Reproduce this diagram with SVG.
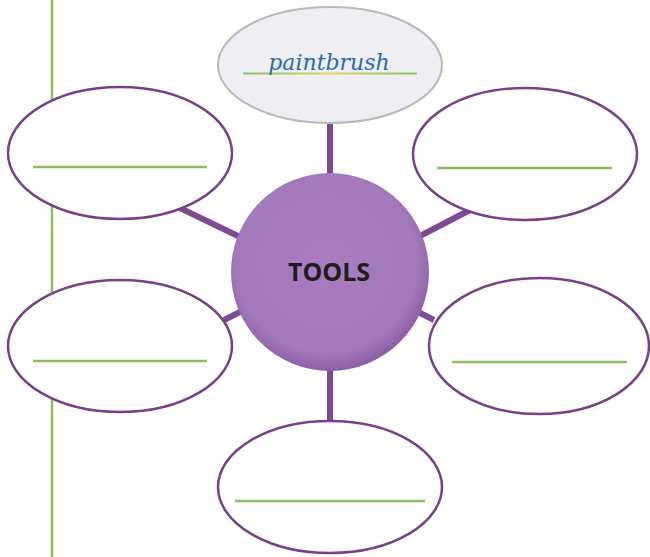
<svg xmlns="http://www.w3.org/2000/svg" width="650" height="557" viewBox="0 0 650 557">
<style>
.bubble{fill:#ffffff;stroke:#7a3f8c;stroke-width:2.5}
.line{stroke:#8dc05a;stroke-width:2.5}
.conn{stroke:#7d4a94;stroke-width:6;stroke-linecap:butt}
</style>
<defs>
<radialGradient id="g" cx="0.48" cy="0.45" r="0.56">
<stop offset="0" stop-color="#a77dbf"/>
<stop offset="0.82" stop-color="#a279bb"/>
<stop offset="1" stop-color="#8a5ca3"/>
</radialGradient>
<linearGradient id="ul" gradientUnits="userSpaceOnUse" x1="243" y1="0" x2="417" y2="0">
<stop offset="0" stop-color="#8dc05a"/>
<stop offset="0.5" stop-color="#d8d860"/>
<stop offset="1" stop-color="#8dc05a"/>
</linearGradient>
</defs>
<rect width="650" height="557" fill="#ffffff"/>
<line x1="52" y1="0" x2="52" y2="557" class="line"/>
<g id="connectors">
<line class="conn" x1="330" y1="124" x2="330" y2="176"/>
<line class="conn" x1="330" y1="368" x2="330" y2="421"/>
<line class="conn" x1="180" y1="208" x2="240" y2="237"/>
<line class="conn" x1="420" y1="236" x2="470" y2="210"/>
<line class="conn" x1="224" y1="320" x2="242" y2="311"/>
<line class="conn" x1="418" y1="312" x2="434" y2="320"/>
</g>
<g id="top">
<ellipse cx="330" cy="65" rx="112" ry="58" fill="#eeeef3" stroke="#b9b9bd" stroke-width="2"/>
<line x1="243" y1="73.5" x2="417" y2="73.5" stroke="url(#ul)" stroke-width="2"/>
<text x="329" y="70" text-anchor="middle" font-family="'DejaVu Serif', serif" font-style="italic" font-size="22" fill="#2a6ca8">paintbrush</text>
</g>
<g id="lefttop">
<ellipse class="bubble" cx="120" cy="153" rx="112" ry="66"/>
<line class="line" x1="33" y1="167" x2="207" y2="167"/>
</g>
<g id="righttop">
<ellipse class="bubble" cx="525" cy="154" rx="112" ry="66"/>
<line class="line" x1="437" y1="168" x2="612" y2="168"/>
</g>
<g id="leftbottom">
<ellipse class="bubble" cx="120" cy="346" rx="112" ry="66"/>
<line class="line" x1="33" y1="361" x2="207" y2="361"/>
</g>
<g id="rightbottom">
<ellipse class="bubble" cx="539" cy="346" rx="110" ry="68"/>
<line class="line" x1="452" y1="362" x2="627" y2="362"/>
</g>
<g id="bottom">
<ellipse class="bubble" cx="330" cy="487" rx="112" ry="66"/>
<line class="line" x1="235" y1="501" x2="425" y2="501"/>
</g>
<g id="center">
<circle cx="330" cy="272" r="99" fill="url(#g)"/>
<text x="329" y="281" text-anchor="middle" font-family="'Open Sans', 'Liberation Sans', sans-serif" font-weight="bold" font-size="25" fill="#1e1e1e">TOOLS</text>
</g>
</svg>
